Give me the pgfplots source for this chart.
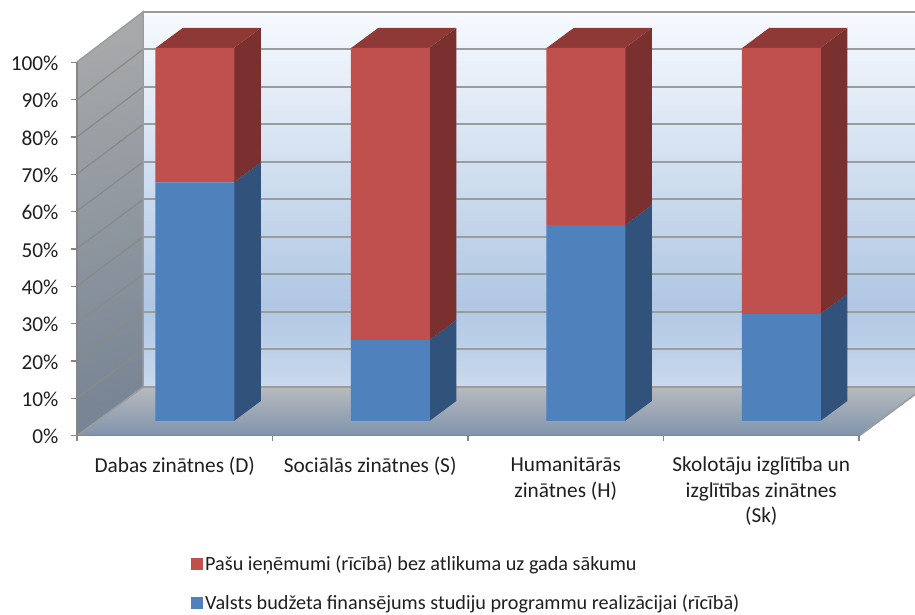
\documentclass[border=0pt]{standalone}
\usepackage{fontspec}
\setmainfont{Carlito}
\usepackage{pgfplots}
\pgfplotsset{compat=1.18}
\definecolor{bfront}{HTML}{4F81BD}
\definecolor{rfront}{HTML}{C0504D}
\definecolor{bside}{HTML}{31527B}
\definecolor{rside}{HTML}{7A302E}
\definecolor{rtop}{HTML}{8F3936}
\definecolor{gridc}{HTML}{9A9C9E}
\definecolor{gridl}{HTML}{8A8A86}
\definecolor{axisc}{HTML}{868686}
\pgfdeclareverticalshading{backwall}{100bp}{rgb(0bp)=(.79,.85,.93);rgb(25bp)=(.79,.85,.93);rgb(36bp)=(.69,.78,.89);rgb(75bp)=(.97,.98,1);rgb(100bp)=(.97,.98,1)}
\pgfdeclareverticalshading{floorsh}{100bp}{rgb(0bp)=(.50,.58,.68);rgb(25bp)=(.50,.58,.68);rgb(75bp)=(.72,.73,.74);rgb(100bp)=(.72,.73,.74)}
\begin{document}
\begin{tikzpicture}[x=1pt,y=1pt]
\path (0,0) rectangle (915,612);
% background walls, in picture pixels
\begin{axis}[at={(0pt,0pt)},anchor=south west,scale only axis,width=915pt,height=612pt,
  xmin=0,xmax=915,ymin=0,ymax=612,y dir=reverse,hide axis,no marks]
\addplot[shading=backwall,draw=none] coordinates {(143,12)(925,12)(925,387)(143,387)} -- cycle;
\addplot[gridc,line width=2pt] coordinates {(143,12)(925,12)};
\addplot[gridc,line width=2pt] coordinates {(143,49.5)(925,49.5)};
\addplot[gridc,line width=2pt] coordinates {(143,87)(925,87)};
\addplot[gridc,line width=2pt] coordinates {(143,124.5)(925,124.5)};
\addplot[gridc,line width=2pt] coordinates {(143,162)(925,162)};
\addplot[gridc,line width=2pt] coordinates {(143,199.5)(925,199.5)};
\addplot[gridc,line width=2pt] coordinates {(143,237)(925,237)};
\addplot[gridc,line width=2pt] coordinates {(143,274.5)(925,274.5)};
\addplot[gridc,line width=2pt] coordinates {(143,312)(925,312)};
\addplot[gridc,line width=2pt] coordinates {(143,349.5)(925,349.5)};
\addplot[top color={rgb,255:red,166;green,168;blue,170},bottom color={rgb,255:red,120;green,133;blue,148},shading angle=15,draw=none]
  coordinates {(77,62)(143,12)(143,387)(77,436)} -- cycle;
\addplot[gridl,line width=1.3pt] coordinates {(77,99.5)(143,49.5)};
\addplot[gridl,line width=1.3pt] coordinates {(77,137)(143,87)};
\addplot[gridl,line width=1.3pt] coordinates {(77,174)(143,124.5)};
\addplot[gridl,line width=1.3pt] coordinates {(77,211)(143,162)};
\addplot[gridl,line width=1.3pt] coordinates {(77,248.5)(143,199.5)};
\addplot[gridl,line width=1.3pt] coordinates {(77,286)(143,237)};
\addplot[gridl,line width=1.3pt] coordinates {(77,323)(143,274.5)};
\addplot[gridl,line width=1.3pt] coordinates {(77,360.5)(143,312)};
\addplot[gridl,line width=1.3pt] coordinates {(77,398)(143,349.5)};
\addplot[gridc,line width=1.5pt] coordinates {(77,62)(143,12)(143,387)};
\addplot[shading=floorsh,draw=none] coordinates {(77,436)(143,387)(925,387)(859,436)} -- cycle;
\addplot[gridc,line width=1.6pt] coordinates {(77,436)(143,387)(925,387)};
\addplot[gridc,line width=1.6pt] coordinates {(859,436)(925,387)};
\end{axis}
% axes with ticks and labels
\begin{axis}[at={(77pt,176.5pt)},anchor=south west,scale only axis,width=782pt,height=373pt,
  xmin=0,xmax=4,ymin=0,ymax=100,axis x line=bottom,axis y line=left,
  axis line style={-,draw=axisc,line width=1.5pt},
  every tick/.style={draw=axisc,line width=1.3pt},
  tick align=outside,tickwidth=6pt,
  ytick={0,10,...,100},
  yticklabel={\pgfmathprintnumber{\tick}\%},
  /pgf/number format/assume math mode=true,
  y tick label style={font=\fontsize{21.3}{24}\selectfont,color=black!88,xshift=-9pt,yshift=-1pt},
  xtick={0,1,2,3,4},xticklabels={},
  extra x ticks={0.5,1.5,2.5,3.5},
  extra x tick style={tickwidth=0pt,every tick/.style={draw=none}},
  extra x tick labels={Dabas zinātnes (D),Sociālās zinātnes (S),Humanitārās\\zinātnes (H),Skolotāju izglītība un\\izglītības zinātnes\\(Sk)},
  x tick label style={font=\fontsize{21.3}{25.5}\selectfont,color=black!88,align=center,anchor=north,yshift=-18pt},
  ]
\end{axis}
% side and top faces of the bars
\begin{axis}[at={(97pt,191pt)},anchor=south west,scale only axis,width=782pt,height=373pt,
  xmin=0,xmax=4,ymin=0,ymax=100,hide axis,clip=false,no marks]
\addplot[fill=bside,draw=none] coordinates {(0.7,0)(0.838,5.36)(0.838,69.36)(0.7,64)} -- cycle;
\addplot[fill=rside,draw=none] coordinates {(0.7,64)(0.838,69.36)(0.838,105.36)(0.7,100)} -- cycle;
\addplot[fill=rtop,draw=none] coordinates {(0.3,100)(0.7,100)(0.838,105.36)(0.438,105.36)} -- cycle;
\addplot[fill=bside,draw=none] coordinates {(1.7,0)(1.838,5.36)(1.838,27.06)(1.7,21.7)} -- cycle;
\addplot[fill=rside,draw=none] coordinates {(1.7,21.7)(1.838,27.06)(1.838,105.36)(1.7,100)} -- cycle;
\addplot[fill=rtop,draw=none] coordinates {(1.3,100)(1.7,100)(1.838,105.36)(1.438,105.36)} -- cycle;
\addplot[fill=bside,draw=none] coordinates {(2.7,0)(2.838,5.36)(2.838,57.86)(2.7,52.5)} -- cycle;
\addplot[fill=rside,draw=none] coordinates {(2.7,52.5)(2.838,57.86)(2.838,105.36)(2.7,100)} -- cycle;
\addplot[fill=rtop,draw=none] coordinates {(2.3,100)(2.7,100)(2.838,105.36)(2.438,105.36)} -- cycle;
\addplot[fill=bside,draw=none] coordinates {(3.7,0)(3.838,5.36)(3.838,34.06)(3.7,28.7)} -- cycle;
\addplot[fill=rside,draw=none] coordinates {(3.7,28.7)(3.838,34.06)(3.838,105.36)(3.7,100)} -- cycle;
\addplot[fill=rtop,draw=none] coordinates {(3.3,100)(3.7,100)(3.838,105.36)(3.438,105.36)} -- cycle;
\end{axis}
% front faces of the bars
\begin{axis}[at={(97pt,191pt)},anchor=south west,scale only axis,width=782pt,height=373pt,
  xmin=0,xmax=4,ymin=0,ymax=100,hide axis,clip=false,
  ybar stacked,bar width=79pt,
  reverse legend,
  legend style={at={(91pt,-131pt)},anchor=north west,draw=none,fill=none,
    font=\fontsize{20.2}{24}\selectfont,text=black!88,row sep=18pt,
    legend cell align=left},
  legend image code/.code={\fill[#1] (0pt,-6pt) rectangle (12pt,6pt);},
  ]
\addplot[fill=bfront,draw=none] coordinates {(0.5,64)(1.5,21.7)(2.5,52.5)(3.5,28.7)};
\addlegendentry{Valsts budžeta finansējums studiju programmu realizācijai (rīcībā)}
\addplot[fill=rfront,draw=none] coordinates {(0.5,36)(1.5,78.3)(2.5,47.5)(3.5,71.3)};
\addlegendentry{Pašu ieņēmumi (rīcībā) bez atlikuma uz gada sākumu}
\end{axis}
\end{tikzpicture}
\end{document}
